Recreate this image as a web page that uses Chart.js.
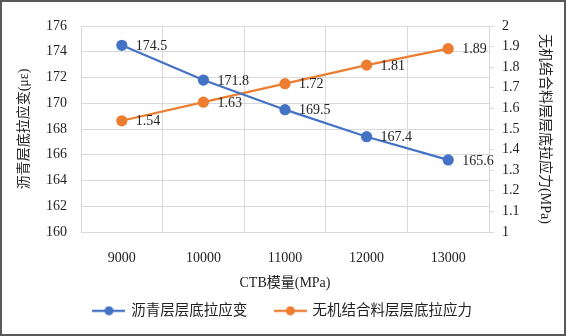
<!DOCTYPE html>
<html><head><meta charset="utf-8">
<script src="https://cdn.jsdelivr.net/npm/chart.js@4"></script>
<style>html,body{margin:0;padding:0;background:#fff}canvas{display:block}</style>
</head><body>
<canvas id="c" width="566" height="336"></canvas>
<script>
const categories = ['9000', '10000', '11000', '12000', '13000'];
const strainValues = [174.5, 171.8, 169.5, 167.4, 165.6];
const stressValues = [1.54, 1.63, 1.72, 1.81, 1.89];
const strainName = '沥青层层底拉应变';
const stressName = '无机结合料层层底拉应力';
const xTitle = 'CTB模量(MPa)';
const leftTitle = '沥青层底拉应变(με)';
const rightTitle = '无机结合料层层底拉应力(MPa)';
const leftRange = [160, 176, 2];
const rightRange = [1, 2, 0.1];

const FONT = '"Liberation Serif", "Noto Sans CJK SC", serif';
const TEXT = '#222';
const GRID = '#d9d9d9';
const BLUE = '#4472C4';
const ORANGE = '#ED7D31';

function markerImage(color) {
  const c = document.createElement('canvas');
  c.width = 33; c.height = 10;
  const g = c.getContext('2d');
  g.strokeStyle = color; g.lineWidth = 2.25;
  g.beginPath(); g.moveTo(0, 5); g.lineTo(33, 5); g.stroke();
  g.fillStyle = color;
  g.beginPath(); g.arc(16.5, 5, 4.5, 0, Math.PI * 2); g.fill();
  return c;
}

const valueLabels = {
  id: 'valueLabels',
  afterDatasetsDraw(chart) {
    const ctx = chart.ctx;
    ctx.save();
    ctx.font = '14px ' + FONT;
    ctx.fillStyle = TEXT;
    ctx.textAlign = 'left';
    ctx.textBaseline = 'middle';
    chart.data.datasets.forEach((ds, i) => {
      chart.getDatasetMeta(i).data.forEach((pt, j) => {
        ctx.fillText(ds.valueText[j], pt.x + 14, pt.y + 1);
      });
    });
    ctx.restore();
  }
};
const frame = {
  id: 'frame',
  afterDraw(chart) {
    const ctx = chart.ctx;
    ctx.save();
    ctx.strokeStyle = '#595959';
    ctx.lineWidth = 2;
    ctx.strokeRect(1, 1, chart.width - 2, chart.height - 2);
    ctx.restore();
  }
};

new Chart(document.getElementById('c'), {
  type: 'line',
  data: {
    labels: categories,
    datasets: [
      { label: strainName, data: strainValues, valueText: strainValues.map(v => v.toFixed(1)),
        borderColor: BLUE, backgroundColor: BLUE, borderWidth: 2.25, pointRadius: 4.5,
        pointHoverRadius: 4.5, pointStyle: 'circle', yAxisID: 'y', tension: 0 },
      { label: stressName, data: stressValues, valueText: stressValues.map(v => v.toFixed(2)),
        borderColor: ORANGE, backgroundColor: ORANGE, borderWidth: 2.25, pointRadius: 4.5,
        pointHoverRadius: 4.5, pointStyle: 'circle', yAxisID: 'y1', tension: 0 }
    ]
  },
  options: {
    responsive: false,
    animation: false,
    events: [],
    layout: { padding: { left: 0, right: 0, top: 26, bottom: 8 } },
    plugins: {
      tooltip: { enabled: false },
      legend: {
        position: 'bottom',
        labels: {
          usePointStyle: true,
          pointStyleWidth: 30,
          padding: 10,
          color: TEXT,
          font: { family: FONT, size: 14.5 },
          generateLabels(chart) {
            return chart.data.datasets.map((ds, i) => ({
              text: i === 0 ? ds.label + '     ' : ds.label,
              pointStyle: markerImage(ds.borderColor),
              fillStyle: ds.borderColor, strokeStyle: ds.borderColor,
              lineWidth: 0, hidden: false, datasetIndex: i, fontColor: TEXT
            }));
          }
        }
      }
    },
    scales: {
      x: {
        type: 'category',
        offset: true,
        grid: { color: GRID, offset: true, drawTicks: false, lineWidth: 1 },
        border: { display: false },
        ticks: { color: TEXT, font: { family: FONT, size: 14 }, padding: 18, maxRotation: 0 },
        title: { display: true, text: xTitle, color: TEXT, font: { family: FONT, size: 14 }, padding: { top: 4, bottom: 2 } },
        afterFit(s) { s.height = 96 - (s.chart.legend ? s.chart.legend.height : 0); }
      },
      y: {
        position: 'left',
        min: leftRange[0], max: leftRange[1],
        grid: { color: GRID, drawTicks: false, lineWidth: 1 },
        border: { display: false },
        ticks: { stepSize: leftRange[2], color: TEXT, font: { family: FONT, size: 14 }, padding: 14 },
        title: { display: true, text: leftTitle, color: TEXT, font: { family: FONT, size: 14 }, padding: { top: 16, bottom: 0 } },
        afterFit(s) { s.width = 81; }
      },
      y1: {
        position: 'right',
        min: rightRange[0], max: rightRange[1],
        grid: { color: GRID, drawOnChartArea: false, drawTicks: true, tickLength: 5, tickColor: GRID },
        border: { display: true, color: GRID },
        ticks: { stepSize: rightRange[2], color: TEXT, font: { family: FONT, size: 14 }, padding: 8,
                 callback: v => String(Number(v.toFixed(1))) },
        title: { display: true, text: rightTitle, color: TEXT, font: { family: FONT, size: 14 }, padding: { top: 13, bottom: 0 } },
        afterFit(s) { s.width = 77; }
      }
    }
  },
  plugins: [valueLabels, frame]
});
</script>
</body></html>
